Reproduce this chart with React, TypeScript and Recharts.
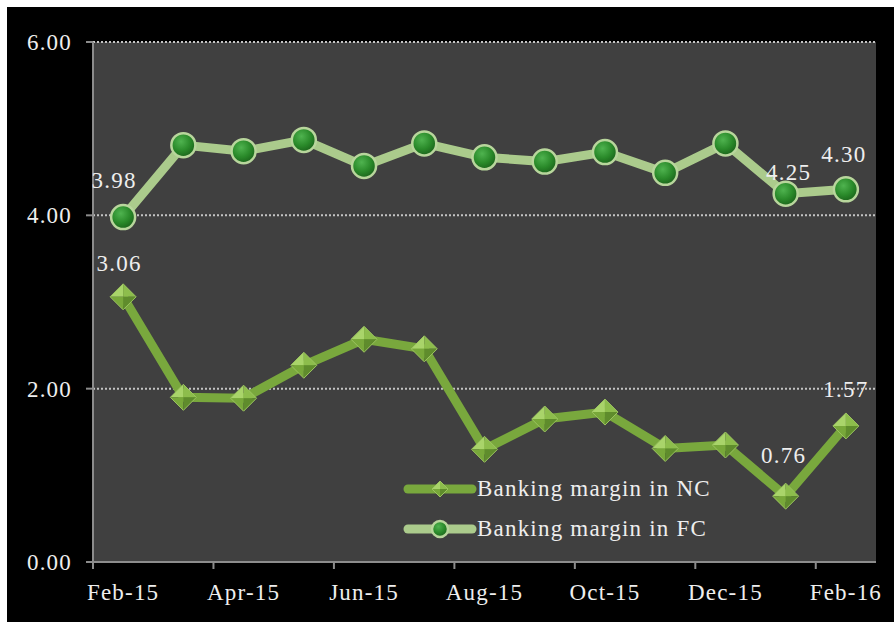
import React from "react";
import { LineChart, Line, XAxis, YAxis, CartesianGrid, LabelList } from "recharts";

const months = [
  "Feb-15", "Mar-15", "Apr-15", "May-15", "Jun-15", "Jul-15", "Aug-15",
  "Sep-15", "Oct-15", "Nov-15", "Dec-15", "Jan-16", "Feb-16",
];
const marginNC = [3.06, 1.9, 1.89, 2.27, 2.57, 2.46, 1.3, 1.65, 1.73, 1.31, 1.35, 0.76, 1.57];
const marginFC = [3.98, 4.81, 4.74, 4.87, 4.57, 4.83, 4.67, 4.62, 4.73, 4.49, 4.83, 4.25, 4.3];
const yTicks = [0, 2, 4, 6];
const labeledNC = [0, 11, 12];
const labeledFC = [0, 11, 12];

const data = months.map((m, i) => ({ month: m, nc: marginNC[i], fc: marginFC[i] }));

const W = 887;
const H = 615;
const M = { top: 35, right: 18, bottom: 0, left: 0 };
const X_AXIS_H = 60;
const Y_AXIS_W = 86;
const bandW = (W - M.left - M.right - Y_AXIS_W) / months.length;

const FONT = '"Liberation Serif", "Times New Roman", serif';
const TXT = "#eeeeee";
const AXIS = "#8c8c8c";
const NC_LINE = "#79a83d";
const FC_LINE = "#abcb8c";

const TICK_SIZE = 7;
const TICK_MARGIN = 14;

// diamond marker w/ facets to fake the bevel
const Diamond = ({ cx, cy, s = 13 }: { cx: number; cy: number; s?: number }) => (
  <g>
    <polygon points={`${cx},${cy - s} ${cx - s},${cy} ${cx},${cy}`} fill="#a9d46a" />
    <polygon points={`${cx},${cy - s} ${cx + s},${cy} ${cx},${cy}`} fill="#8dbd4c" />
    <polygon points={`${cx - s},${cy} ${cx},${cy + s} ${cx},${cy}`} fill="#78a83a" />
    <polygon points={`${cx + s},${cy} ${cx},${cy + s} ${cx},${cy}`} fill="#5f8c2c" />
    <polygon
      points={`${cx},${cy - s} ${cx + s},${cy} ${cx},${cy + s} ${cx - s},${cy}`}
      fill="none"
      stroke="#9cc460"
      strokeWidth={1}
    />
  </g>
);

const Ball = ({ cx, cy, r = 12 }: { cx: number; cy: number; r?: number }) => (
  <circle cx={cx} cy={cy} r={r} fill="url(#ballGrad)" stroke="#b8d69c" strokeWidth={2.5} />
);

const renderNCDot = (p: any) => <Diamond key={`nc-${p.index}`} cx={p.cx} cy={p.cy} />;
const renderFCDot = (p: any) => <Ball key={`fc-${p.index}`} cx={p.cx} cy={p.cy} />;

const labelOffsetsNC: Record<number, [number, number]> = { 0: [-4, -33], 11: [-2, -41], 12: [0, -36] };
const labelOffsetsFC: Record<number, [number, number]> = { 0: [-9, -37], 11: [3, -21], 12: [-2, -35] };

const makeLabel = (shown: number[], offsets: Record<number, [number, number]>) => (p: any) => {
  if (!shown.includes(p.index)) return null;
  const [dx, dy] = offsets[p.index] || [0, -30];
  return (
    <text
      x={p.x + dx}
      y={p.y + dy}
      textAnchor="middle"
      dominantBaseline="central"
      fill={TXT}
      fontSize={23}
      letterSpacing={1.2}
      fontFamily={FONT}
    >
      {Number(p.value).toFixed(2)}
    </text>
  );
};

const XTick = (props: any) => {
  const { x, y, payload } = props;
  const idx = payload.index;
  if (idx % 2 !== 0) return null;
  const axisY = y - TICK_SIZE - TICK_MARGIN;
  const tx = x - bandW / 2;
  return (
    <g>
      <line x1={tx} y1={axisY} x2={tx} y2={axisY + TICK_SIZE} stroke={AXIS} strokeWidth={2} />
      <text
        x={x}
        y={y}
        dy="0.75em"
        textAnchor="middle"
        fill={TXT}
        fontSize={23}
        letterSpacing={1.2}
        fontFamily={FONT}
      >
        {payload.value}
      </text>
    </g>
  );
};

const LegendRow = ({ kind, label }: { kind: "nc" | "fc"; label: string }) => (
  <div style={{ display: "flex", alignItems: "center", height: 40 }}>
    <svg width={74} height={30}>
      <line
        x1={5}
        y1={15}
        x2={69}
        y2={15}
        stroke={kind === "nc" ? NC_LINE : FC_LINE}
        strokeWidth={9}
        strokeLinecap="round"
      />
      {kind === "nc" ? <Diamond cx={37} cy={15} s={8} /> : <Ball cx={37} cy={15} r={8} />}
    </svg>
    <span style={{ color: TXT, fontSize: 23, letterSpacing: 1.2, fontFamily: FONT, whiteSpace: "nowrap" }}>
      {label}
    </span>
  </div>
);

export default function App() {
  return (
    <div style={{ position: "absolute", left: 7, top: 7, width: W, height: H, background: "#000" }}>
      <LineChart width={W} height={H} data={data} margin={M}>
        <defs>
          <radialGradient id="ballGrad" cx="40%" cy="35%" r="65%">
            <stop offset="0%" stopColor="#4fb34f" />
            <stop offset="60%" stopColor="#2a8a2a" />
            <stop offset="100%" stopColor="#1c661c" />
          </radialGradient>
        </defs>
        <CartesianGrid
          vertical={false}
          fill="#404040"
          fillOpacity={1}
          stroke="#c4c4c4"
          strokeWidth={2}
          strokeDasharray="2 2"
        />
        <XAxis
          dataKey="month"
          interval={0}
          padding={{ left: bandW / 2, right: bandW / 2 }}
          axisLine={{ stroke: AXIS, strokeWidth: 2 }}
          tickLine={false}
          tickSize={TICK_SIZE}
          tickMargin={TICK_MARGIN}
          tick={<XTick />}
          height={X_AXIS_H}
        />
        <YAxis
          width={Y_AXIS_W}
          domain={[0, 6]}
          ticks={yTicks}
          interval={0}
          tickFormatter={(v: number) => v.toFixed(2)}
          axisLine={{ stroke: AXIS, strokeWidth: 2 }}
          tickLine={{ stroke: AXIS, strokeWidth: 2 }}
          tickSize={TICK_SIZE}
          tickMargin={14}
          tick={{ fill: TXT, fontSize: 23, fontFamily: FONT, letterSpacing: 1.2 }}
        />
        <Line
          type="linear"
          dataKey="nc"
          name="Banking margin in NC"
          stroke={NC_LINE}
          strokeWidth={9}
          dot={renderNCDot}
          activeDot={false}
          isAnimationActive={false}
        >
          <LabelList dataKey="nc" content={makeLabel(labeledNC, labelOffsetsNC)} />
        </Line>
        <Line
          type="linear"
          dataKey="fc"
          name="Banking margin in FC"
          stroke={FC_LINE}
          strokeWidth={9}
          dot={renderFCDot}
          activeDot={false}
          isAnimationActive={false}
        >
          <LabelList dataKey="fc" content={makeLabel(labeledFC, labelOffsetsFC)} />
        </Line>
      </LineChart>
      <div style={{ position: "absolute", left: 396, top: 462 }}>
        <LegendRow kind="nc" label="Banking margin in NC" />
        <LegendRow kind="fc" label="Banking margin in FC" />
      </div>
    </div>
  );
}
